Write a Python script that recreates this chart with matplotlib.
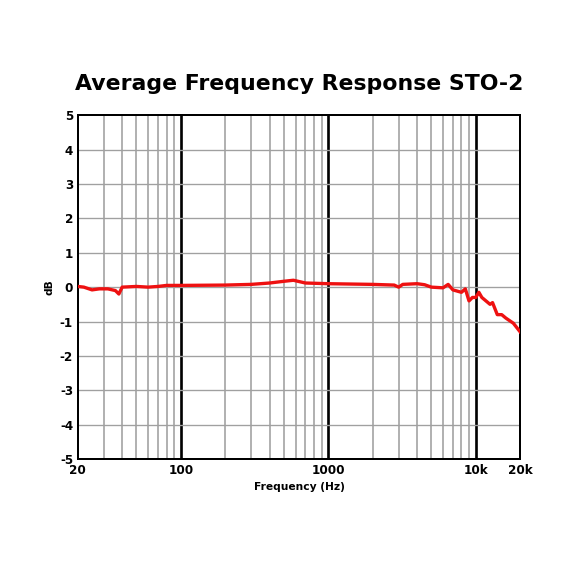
import numpy as np
import matplotlib.pyplot as plt
from matplotlib.ticker import FixedLocator, NullFormatter

freq = [20, 22, 25, 28, 32, 36, 38, 40, 50, 60, 70, 80, 100, 200, 300, 400, 500,
        580, 700, 1000, 2000, 2800, 3000, 3200, 4000, 4500, 5000, 6000, 6500, 7000,
        8000, 8500, 9000, 9500, 10000, 10500, 11000, 12500, 13000, 14000, 15000,
        16000, 18000, 20000]
db = [0.02, 0.0, -0.08, -0.05, -0.05, -0.1, -0.2, 0.0, 0.02, 0.0, 0.02, 0.05, 0.05,
      0.06, 0.08, 0.12, 0.17, 0.2, 0.12, 0.1, 0.08, 0.06, 0.0, 0.08, 0.1, 0.07, 0.0,
      -0.02, 0.08, -0.08, -0.15, -0.05, -0.4, -0.3, -0.3, -0.15, -0.3, -0.5, -0.45,
      -0.8, -0.8, -0.9, -1.05, -1.3]
xticks = [20, 100, 1000, 10000, 20000]
xlabels = ["20", "100", "1000", "10k", "20k"]

fig = plt.figure(figsize=(6, 6), dpi=96)
ax = fig.add_axes([0.135, 0.203, 0.768, 0.597])
ax.set_xscale("log")
ax.set_xlim(20, 20000)
ax.set_ylim(-5, 5)

minors = [m * d for d in (10, 100, 1000, 10000) for m in range(2, 10) if 20 < m * d < 20000]
for f in minors:
    ax.axvline(f, color="#a0a0a0", lw=1.2, zorder=1)
for f in (100, 1000, 10000):
    ax.axvline(f, color="black", lw=2, zorder=1)
for y in range(-4, 5):
    ax.axhline(y, color="#a0a0a0", lw=1, zorder=1)

ax.plot(freq, db, color="#ee1111", lw=2.5, zorder=3)

ax.xaxis.set_major_locator(FixedLocator(xticks))
ax.xaxis.set_minor_locator(FixedLocator([]))
ax.xaxis.set_minor_formatter(NullFormatter())
ax.set_xticklabels(xlabels, fontweight="bold", fontsize=9)
ax.set_yticks(range(-5, 6))
ax.set_yticklabels([str(v) for v in range(-5, 6)], fontweight="bold", fontsize=9)
ax.tick_params(length=0)
for s in ax.spines.values():
    s.set_linewidth(1.5)
ax.set_xlabel("Frequency (Hz)", fontweight="bold", fontsize=8)
ax.set_ylabel("dB", fontweight="bold", fontsize=8)
fig.text(0.52, 0.843, "Average Frequency Response STO-2", ha="center",
         fontsize=16.5, fontweight="heavy")
fig.savefig("out.png")
